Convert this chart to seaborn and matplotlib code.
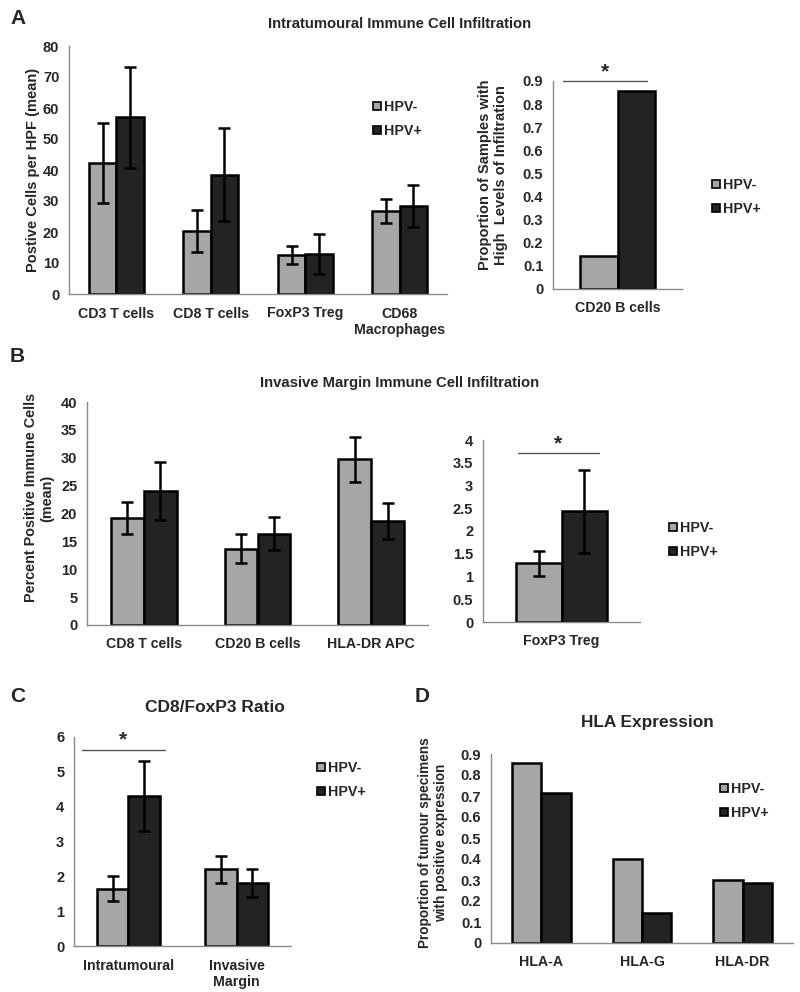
import numpy as np
import pandas as pd
import seaborn as sns
import matplotlib.pyplot as plt
from matplotlib.lines import Line2D
from matplotlib.ticker import FuncFormatter

sns.set_style("white")
plt.rcParams['font.family'] = ['Liberation Sans', 'DejaVu Sans']
plt.rcParams['font.weight'] = 'bold'

# 데이터
groups = ['HPV-', 'HPV+']

a_cells = ['CD3 T cells', 'CD8 T cells', 'FoxP3 Treg', 'CD68\nMacrophages']
a_neg = [42.3, 20.3, 12.6, 26.8]
a_neg_err = [13.0, 6.9, 3.0, 3.8]
a_pos = [57.0, 38.4, 13.0, 28.4]
a_pos_err = [16.2, 15.0, 6.5, 6.7]

a2_cells = ['CD20 B cells']
a2_neg = [0.143]
a2_pos = [0.857]

b_cells = ['CD8 T cells', 'CD20 B cells', 'HLA-DR APC']
b_neg = [19.2, 13.7, 29.7]
b_neg_err = [2.8, 2.6, 4.1]
b_pos = [24.0, 16.4, 18.6]
b_pos_err = [5.2, 2.9, 3.2]

b2_cells = ['FoxP3 Treg']
b2_neg = [1.29]
b2_neg_err = [0.28]
b2_pos = [2.43]
b2_pos_err = [0.92]

c_cells = ['Intratumoural', 'Invasive\nMargin']
c_neg = [1.65, 2.2]
c_neg_err = [0.35, 0.38]
c_pos = [4.3, 1.82]
c_pos_err = [1.0, 0.4]

d_cells = ['HLA-A', 'HLA-G', 'HLA-DR']
d_neg = [0.857, 0.4, 0.3]
d_pos = [0.714, 0.143, 0.286]

LIGHT = '#a6a6a6'
DARK = '#232323'
SPINE = '#8a8a8a'
W, H = 800, 992


def make_df(cells, neg, pos):
    return pd.DataFrame({
        'cell': cells * 2,
        'value': list(neg) + list(pos),
        'group': [groups[0]] * len(cells) + [groups[1]] * len(cells),
    })


def px_axes(fig, x0, x1, y0, y1):
    # 픽셀 좌표로 축 위치 지정
    return fig.add_axes([x0 / W, 1 - y1 / H, (x1 - x0) / W, (y1 - y0) / H])


def bar_panel(ax, cells, neg, pos, ymax, step, neg_err=None, pos_err=None):
    df = make_df(cells, neg, pos)
    sns.barplot(data=df, x='cell', y='value', hue='group', palette=[LIGHT, DARK],
                width=0.58, edgecolor='black', linewidth=1.8, errorbar=None,
                legend=False, ax=ax)
    errs = [neg_err, pos_err]
    for cont, err in zip(ax.containers, errs):
        if err is None:
            continue
        xs = [b.get_x() + b.get_width() / 2 for b in cont]
        ys = [b.get_height() for b in cont]
        ax.errorbar(xs, ys, yerr=err, fmt='none', ecolor='black', elinewidth=1.8,
                    capsize=4, capthick=1.8, zorder=5)
    n = len(cells)
    ax.set_xlim(-0.5, n - 0.5)
    ax.set_ylim(0, ymax)
    ax.set_yticks(np.arange(0, ymax + step / 2, step))
    ax.yaxis.set_major_formatter(FuncFormatter(lambda v, p: f'{v:g}'))
    ax.set_xticks(range(n))
    ax.set_xticklabels(cells, fontsize=10.2, fontweight='bold')
    ax.set_xticks(np.arange(-0.5, n, 1.0), minor=True)
    ax.tick_params(axis='x', which='major', length=0, pad=9)
    ax.tick_params(axis='x', which='minor', length=4, color=SPINE, direction='out')
    ax.tick_params(axis='y', length=4, color=SPINE, direction='out', labelsize=10.5, pad=3)
    for lab in ax.get_yticklabels():
        lab.set_fontweight('bold')
    sns.despine(ax=ax)
    for s in ['left', 'bottom']:
        ax.spines[s].set_color(SPINE)
        ax.spines[s].set_linewidth(1.0)
    ax.set_xlabel('')
    ax.set_ylabel('')


def add_legend(fig, x, y):
    handles = [Line2D([], [], marker='s', linestyle='none', markersize=5.5,
                      markerfacecolor=c, markeredgecolor='black', markeredgewidth=1.2)
               for c in [LIGHT, DARK]]
    fig.legend(handles, groups, loc='center left', bbox_to_anchor=(x / W, 1 - y / H),
               frameon=False, handlelength=0.6, handletextpad=0.15, labelspacing=0.75,
               borderpad=0, prop={'weight': 'bold', 'size': 10.3})


def sig_bar(ax, x0, x1, y):
    ax.plot([x0, x1], [y, y], color='#555555', lw=1.0, clip_on=False)
    ax.text((x0 + x1) / 2, y, '*', ha='center', va='bottom', fontsize=15,
            fontweight='bold')


fig = plt.figure(figsize=(8, 9.92), dpi=100)

# A
ax = px_axes(fig, 69, 447, 46, 294)
bar_panel(ax, a_cells, a_neg, a_pos, 80, 10, a_neg_err, a_pos_err)
ax.set_ylabel('Postive Cells per HPF (mean)', fontsize=10.5, fontweight='bold')
ax.yaxis.set_label_coords(-0.077, 0.5)
add_legend(fig, 366, 119)

ax = px_axes(fig, 553, 682, 81, 289)
bar_panel(ax, a2_cells, a2_neg, a2_pos, 0.9, 0.1)
ax.set_ylabel('Proportion of Samples with\nHigh  Levels of Infiltration', fontsize=10.5,
              fontweight='bold')
ax.yaxis.set_label_coords(-0.346, 0.55)
sig_bar(ax, -0.42, 0.23, 0.9)
add_legend(fig, 705, 197)

fig.text(400 / W, 1 - 24 / H, 'Intratumoural Immune Cell Infiltration', ha='center',
         va='center', fontsize=10.7, fontweight='bold')
fig.text(10 / W, 1 - 19 / H, 'A', ha='left', va='center', fontsize=15, fontweight='bold')

# B
ax = px_axes(fig, 87, 428, 402, 625)
bar_panel(ax, b_cells, b_neg, b_pos, 40, 5, b_neg_err, b_pos_err)
ax.set_ylabel('Percent Positive Immune Cells\n(mean)', fontsize=10.4, fontweight='bold')
ax.yaxis.set_label_coords(-0.097, 0.57)

ax = px_axes(fig, 483, 640, 440, 622)
bar_panel(ax, b2_cells, b2_neg, b2_pos, 4, 0.5, b2_neg_err, b2_pos_err)
sig_bar(ax, -0.28, 0.24, 3.71)
add_legend(fig, 662, 540)

fig.text(400 / W, 1 - 383 / H, 'Invasive Margin Immune Cell Infiltration', ha='center',
         va='center', fontsize=10.7, fontweight='bold')
fig.text(10 / W, 1 - 356 / H, 'B', ha='left', va='center', fontsize=15, fontweight='bold')

# C
ax = px_axes(fig, 74, 291, 737, 946)
bar_panel(ax, c_cells, c_neg, c_pos, 6, 1, c_neg_err, c_pos_err)
sig_bar(ax, -0.43, 0.34, 5.63)
add_legend(fig, 310, 780)
fig.text(215 / W, 1 - 707 / H, 'CD8/FoxP3 Ratio', ha='center', va='center',
         fontsize=12.5, fontweight='bold')
fig.text(10 / W, 1 - 696 / H, 'C', ha='left', va='center', fontsize=15, fontweight='bold')

# D
ax = px_axes(fig, 491, 793, 754, 943)
bar_panel(ax, d_cells, d_neg, d_pos, 0.9, 0.1)
ax.set_ylabel('Proportion of tumour specimens\nwith positive expression', fontsize=9.8,
              fontweight='bold')
ax.yaxis.set_label_coords(-0.142, 0.53)
add_legend(fig, 713, 801)
fig.text(647 / W, 1 - 723 / H, 'HLA Expression', ha='center', va='center',
         fontsize=12.4, fontweight='bold')
fig.text(415 / W, 1 - 696 / H, 'D', ha='left', va='center', fontsize=15, fontweight='bold')

fig.savefig('out.png', dpi=100)
